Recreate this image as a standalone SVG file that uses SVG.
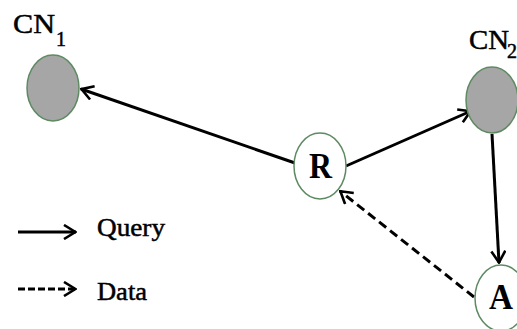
<svg xmlns="http://www.w3.org/2000/svg" width="517" height="329" viewBox="0 0 517 329">
<style>
.node{stroke:#5e8a62;stroke-width:1.5}
.cn{fill:#a6a6a6}
.wn{fill:#ffffff}
.lbl{font-family:"Liberation Serif",serif;fill:#000;stroke:#000;stroke-width:0.5}
.big{font-size:36px;font-weight:bold;stroke-width:0}
.edge{stroke:#000;stroke-width:3;fill:none}
.dash{stroke-dasharray:9,5}
</style>
<defs>
<marker id="ah" viewBox="0 0 14 16" refX="13" refY="8" markerWidth="14" markerHeight="16" markerUnits="userSpaceOnUse" orient="auto">
<path d="M1,1 L12.5,8 L1,15" fill="none" stroke="#000" stroke-width="2.6"/>
</marker>
</defs>
<rect width="517" height="329" fill="#fff"/>
<g id="connectors">
<line class="edge" x1="295" y1="163" x2="81" y2="89" marker-end="url(#ah)"/>
<line class="edge" x1="346" y1="166" x2="471" y2="111" marker-end="url(#ah)"/>
<line class="edge" x1="492" y1="134" x2="499" y2="263" marker-end="url(#ah)"/>
<line class="edge dash" x1="474" y1="297" x2="340" y2="191" marker-end="url(#ah)"/>
</g>
<g id="CN1">
<ellipse class="node cn" cx="53" cy="88" rx="26" ry="33"/>
<text class="lbl" x="13" y="33" font-size="28" textLength="42" lengthAdjust="spacingAndGlyphs">CN</text>
<text class="lbl" x="56" y="46" font-size="20">1</text>
</g>
<g id="CN2">
<ellipse class="node cn" cx="492" cy="100" rx="26" ry="33"/>
<text class="lbl" x="469" y="49" font-size="28" textLength="40" lengthAdjust="spacingAndGlyphs">CN</text>
<text class="lbl" x="507" y="58" font-size="20">2</text>
</g>
<g id="R">
<ellipse class="node wn" cx="320" cy="166" rx="26" ry="33"/>
<text class="lbl big" x="309" y="178" textLength="23" lengthAdjust="spacingAndGlyphs">R</text>
</g>
<g id="A">
<ellipse class="node wn" cx="501" cy="298" rx="26" ry="33"/>
<text class="lbl big" x="489" y="309" textLength="24" lengthAdjust="spacingAndGlyphs">A</text>
</g>
<g id="legend">
<line class="edge" x1="18" y1="232" x2="76" y2="232" marker-end="url(#ah)"/>
<text class="lbl" x="97" y="236" font-size="26" textLength="68" lengthAdjust="spacingAndGlyphs">Query</text>
<line class="edge" x1="18" y1="289" x2="76" y2="289" marker-end="url(#ah)" style="stroke-dasharray:7,3"/>
<text class="lbl" x="97" y="300" font-size="26" textLength="50" lengthAdjust="spacingAndGlyphs">Data</text>
</g>
</svg>
